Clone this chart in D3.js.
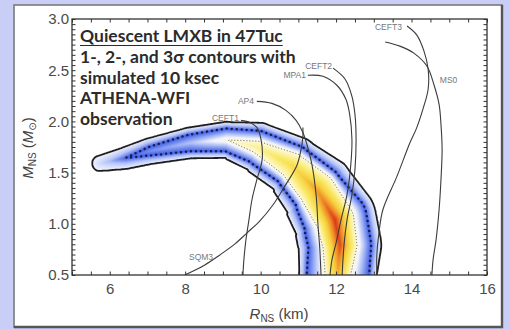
<!DOCTYPE html>
<html>
<head>
<meta charset="utf-8">
<script src="https://cdn.jsdelivr.net/npm/d3@7"></script>
<style>
  html, body { margin: 0; padding: 0; background: #c8cef6; }
  svg { display: block; }
</style>
</head>
<body>
<svg id="chart" width="510" height="329"></svg>
<script>
// ridge of the simulated posterior (R in km, M in Msun)
const ridgeR = [5.74, 6.40, 7.07, 8.13, 9.11, 9.90, 10.83, 11.49, 11.97, 12.10, 12.05, 12.08];
const ridgeM = [1.59, 1.64, 1.71, 1.79, 1.82, 1.75, 1.57, 1.33, 1.04, 0.79, 0.52, 0.25];
// peak level along the ridge (1 = 3 sigma, 2 = 2 sigma, 3 = 1 sigma)
const ridgePeak = [1.3, 2.0, 2.25, 2.5, 3.0, 3.35, 3.8, 4.4, 5.0, 4.9, 4.3, 3.9];
// half widths of the 3, 2 and 1 sigma contours across the ridge (km)
const width3 = [0.21, 0.29, 0.345, 0.41, 0.48, 0.66, 0.80, 1.00, 1.10, 1.10, 1.03, 1.03];
const width2 = [0, 0, 0.12, 0.225, 0.305, 0.44, 0.56, 0.69, 0.85, 0.83, 0.83, 0.82];
const width1 = [0, 0, 0, 0, 0, 0.16, 0.34, 0.48, 0.50, 0.45, 0.34, 0.27];

// equation of state M-R curves
const sqm3R = [7.99, 8.52, 8.92, 9.32, 9.64, 9.98, 10.33, 10.65, 10.96, 11.07, 11.12, 11.12];
const sqm3M = [0.50, 0.598, 0.696, 0.804, 0.912, 1.029, 1.186, 1.373, 1.569, 1.725, 1.853, 1.941];
const ap4R = [9.90, 10.30, 10.67, 10.94, 11.12, 11.25, 11.36, 11.47, 11.52, 11.57, 11.60];
const ap4M = [2.196, 2.176, 2.108, 2.010, 1.892, 1.745, 1.578, 1.284, 0.990, 0.745, 0.50];
const ceft1R = [9.48, 9.72, 9.90, 10.01, 10.04, 9.90, 9.77, 9.69, 9.61, 9.56, 9.53];
const ceft1M = [2.010, 1.990, 1.941, 1.824, 1.627, 1.431, 1.235, 1.039, 0.843, 0.667, 0.50];
const mpa1R = [11.25, 11.65, 12.02, 12.26, 12.36, 12.42, 12.39, 12.29, 12.13, 12.00, 11.89, 11.84];
const mpa1M = [2.451, 2.441, 2.353, 2.216, 2.069, 1.824, 1.578, 1.284, 1.039, 0.814, 0.647, 0.50];
const ceft2R = [11.92, 12.24, 12.42, 12.50, 12.53, 12.50, 12.42, 12.29, 12.21, 12.16];
const ceft2M = [2.52, 2.412, 2.245, 2.069, 1.824, 1.529, 1.284, 1.039, 0.794, 0.50];
const ceft3R = [13.88, 14.14, 14.33, 14.44, 14.44, 14.30, 14.12, 13.96, 13.61, 13.24, 13.13, 13.08, 13.08];
const ceft3M = [2.931, 2.843, 2.686, 2.51, 2.314, 2.118, 1.922, 1.794, 1.461, 1.137, 0.892, 0.696, 0.50];
const ms0R = [13.30, 13.69, 14.06, 14.41, 14.59, 14.73, 14.78, 14.81, 14.78, 14.73, 14.65, 14.57, 14.54];
const ms0M = [2.775, 2.735, 2.667, 2.539, 2.363, 2.167, 1.971, 1.725, 1.431, 1.137, 0.843, 0.647, 0.50];

const eosNames = ['SQM3', 'AP4', 'CEFT1', 'MPA1', 'CEFT2', 'CEFT3', 'MS0'];
const eosLabelR = [8.42, 9.85, 9.45, 11.23, 11.92, 13.77, 14.75];
const eosLabelM = [0.676, 2.196, 2.03, 2.45, 2.54, 2.92, 2.40];
const eosLabelAnchor = ['middle', 'end', 'end', 'end', 'end', 'end', 'start'];

const noteLines = ['Quiescent LMXB in 47Tuc', '1-, 2-, and 3\u03c3 contours with',
  'simulated 10 ksec', 'ATHENA-WFI', 'observation'];

const xTicks = d3.range(5, 16.001, 0.5);
const yTicks = d3.range(0, 51).map(i => +(0.5 + i * 0.05).toFixed(2));

const svg = d3.select('#chart');
const x = d3.scaleLinear().domain([5, 16]).range([72, 487]);
const y = d3.scaleLinear().domain([0.5, 3]).range([275, 19]);

// white card with a darker lower-right edge
svg.append('rect')
  .attr('x', 14).attr('y', 5).attr('width', 488).attr('height', 322)
  .attr('fill', '#fff').attr('stroke', '#7a7a7a').attr('stroke-width', 1.6);
svg.append('path')
  .attr('d', 'M502,5V327H14')
  .attr('fill', 'none').attr('stroke', '#555').attr('stroke-width', 2.4);

svg.append('defs').append('clipPath').attr('id', 'plotclip')
  .append('rect').attr('x', 72).attr('y', 19).attr('width', 415).attr('height', 256);

// ---- density grid built from the ridge ----
const gx0 = 60, gy0 = 10, gw = 440, gh = 310;
const pxPerKm = x(6) - x(5);
const pts = ridgeR.map((r, i) => [x(r), y(ridgeM[i])]);

function profile(d, A, h1, h2, h3) {
  let knots;
  if (A > 3) knots = [[0, A], [h1, 3], [h2, 2], [h3, 1], [h3 + 6, 0]];
  else if (A > 2) knots = [[0, A], [h2, 2], [h3, 1], [h3 + 6, 0]];
  else knots = [[0, A], [h3, 1], [h3 + 6, 0]];
  for (let k = 1; k < knots.length; k++) {
    if (d <= knots[k][0]) {
      const [d0, v0] = knots[k - 1], [d1, v1] = knots[k];
      return d1 - d0 < 1e-6 ? v1 : v0 + (v1 - v0) * (d - d0) / (d1 - d0);
    }
  }
  return 0;
}

const values = new Float64Array(gw * gh);
for (let j = 0; j < gh; j++) {
  const py = gy0 + j + 0.5;
  for (let i = 0; i < gw; i++) {
    const px = gx0 + i + 0.5;
    let best = Infinity, bk = 0, bt = 0;
    for (let k = 0; k < pts.length - 1; k++) {
      const [ax, ay] = pts[k], [bx, by] = pts[k + 1];
      const dx = bx - ax, dy = by - ay;
      let t = ((px - ax) * dx + (py - ay) * dy) / (dx * dx + dy * dy);
      t = Math.max(0, Math.min(1, t));
      const ex = ax + t * dx - px, ey = ay + t * dy - py;
      const dd = ex * ex + ey * ey;
      if (dd < best) { best = dd; bk = k; bt = t; }
    }
    const lerp = arr => arr[bk] + (arr[bk + 1] - arr[bk]) * bt;
    values[j * gw + i] = profile(Math.sqrt(best), lerp(ridgePeak),
      lerp(width1) * pxPerKm, lerp(width2) * pxPerKm, lerp(width3) * pxPerKm);
  }
}

const toPlot = d3.geoPath(d3.geoTransform({
  point(px, py) { this.stream.point(gx0 + px, gy0 + py); }
}));

const color = d3.scaleLinear()
  .domain([1, 1.5, 2, 2.4, 2.75, 3, 3.5, 4, 4.5, 5])
  .range(['#f0f3fe', '#b4c2f6', '#4261e9', '#a3b5f4', '#f1f3fd', '#fdf9dc',
          '#faea6c', '#f6cf3e', '#ef8c28', '#d9301c'])
  .clamp(true);

const fillLevels = d3.range(1, 5.001, 0.05);
const contours = d3.contours().size([gw, gh]);

const plotG = svg.append('g').attr('clip-path', 'url(#plotclip)');

plotG.append('g').selectAll('path')
  .data(contours.thresholds(fillLevels)(values))
  .join('path')
  .attr('d', toPlot)
  .attr('fill', d => color(d.value));

const lineStyles = [
  { level: 3, stroke: '#555', width: 1, dash: '1 2', cap: 'butt' },
  { level: 2, stroke: '#1b1b4a', width: 2.5, dash: '0.01 5', cap: 'round' },
  { level: 1, stroke: '#1e1e1e', width: 1.8, dash: null, cap: 'butt' }
];
lineStyles.forEach(s => {
  plotG.append('path')
    .datum(contours.thresholds([s.level])(values)[0])
    .attr('d', toPlot)
    .attr('fill', 'none')
    .attr('stroke', s.stroke)
    .attr('stroke-width', s.width)
    .attr('stroke-dasharray', s.dash)
    .attr('stroke-linecap', s.cap);
});

// ---- EOS curves ----
const eosR = [sqm3R, ap4R, ceft1R, mpa1R, ceft2R, ceft3R, ms0R];
const eosM = [sqm3M, ap4M, ceft1M, mpa1M, ceft2M, ceft3M, ms0M];
const eosLine = d3.line()
  .x(d => x(d[0])).y(d => y(d[1]))
  .curve(d3.curveCatmullRom.alpha(0.5));

plotG.append('g').selectAll('path')
  .data(eosR.map((rs, i) => rs.map((r, k) => [r, eosM[i][k]])))
  .join('path')
  .attr('d', eosLine)
  .attr('fill', 'none')
  .attr('stroke', '#3c3c3c')
  .attr('stroke-width', 1.1);

svg.append('g').selectAll('text')
  .data(eosNames)
  .join('text')
  .attr('x', (d, i) => x(eosLabelR[i]) + (eosLabelAnchor[i] === 'end' ? -1 : 0))
  .attr('y', (d, i) => y(eosLabelM[i]))
  .attr('dy', '0.35em')
  .attr('text-anchor', (d, i) => eosLabelAnchor[i])
  .attr('font-family', 'Liberation Sans, Arial, sans-serif')
  .attr('font-size', 8.5)
  .attr('fill', '#777')
  .text(d => d);

// ---- axes ----
function styleAxis(g) {
  g.select('.domain').remove();
  g.selectAll('line').attr('stroke', '#333').attr('stroke-width', 1);
  g.selectAll('text')
    .attr('font-family', 'Liberation Sans, Arial, sans-serif')
    .attr('font-size', 15)
    .attr('fill', '#4a4a4a');
}

svg.append('g').attr('transform', 'translate(0,275)')
  .call(d3.axisBottom(x).tickValues(xTicks).tickSize(-3.5).tickPadding(8)
    .tickFormat(d => (d % 2 === 0 && d > 5) ? d : ''))
  .call(styleAxis);
svg.append('g').attr('transform', 'translate(0,19)')
  .call(d3.axisTop(x).tickValues(xTicks).tickSize(-3.5).tickFormat(''))
  .call(styleAxis);
svg.append('g').attr('transform', 'translate(72,0)')
  .call(d3.axisLeft(y).tickValues(yTicks).tickSize(-3.5).tickPadding(3)
    .tickFormat(d => Math.abs(d * 2 - Math.round(d * 2)) < 1e-6 ? d3.format('.1f')(d) : ''))
  .call(styleAxis);
svg.append('g').attr('transform', 'translate(487,0)')
  .call(d3.axisRight(y).tickValues(yTicks).tickSize(-3.5).tickFormat(''))
  .call(styleAxis);

svg.append('rect')
  .attr('x', 72).attr('y', 19).attr('width', 415).attr('height', 256)
  .attr('fill', 'none').attr('stroke', '#333').attr('stroke-width', 1.3);

// axis titles
const yTitle = svg.append('text')
  .attr('transform', 'translate(33,148) rotate(-90)')
  .attr('text-anchor', 'middle')
  .attr('font-family', 'Liberation Sans, Arial, sans-serif')
  .attr('font-size', 15).attr('fill', '#444');
yTitle.append('tspan').attr('font-style', 'italic').text('M');
yTitle.append('tspan').attr('font-size', 10).attr('dy', 3).text('NS');
yTitle.append('tspan').attr('dy', -3).text(' (');
yTitle.append('tspan').attr('font-style', 'italic').text('M');
yTitle.append('tspan').attr('font-size', 10).attr('dy', 3).attr('font-family', 'DejaVu Sans').text('\u2299');
yTitle.append('tspan').attr('dy', -3).text(')');

const xTitle = svg.append('text')
  .attr('x', 279).attr('y', 319)
  .attr('text-anchor', 'middle')
  .attr('font-family', 'Liberation Sans, Arial, sans-serif')
  .attr('font-size', 15).attr('fill', '#444');
xTitle.append('tspan').attr('font-style', 'italic').text('R');
xTitle.append('tspan').attr('font-size', 10).attr('dy', 3).text('NS');
xTitle.append('tspan').attr('dy', -3).text(' (km)');

// note block
const note = svg.append('g')
  .attr('font-family', 'Lato, sans-serif')
  .attr('font-weight', 700)
  .attr('font-size', 17.5)
  .attr('fill', '#2b2b2b');
const noteY = [42, 63, 83.5, 104, 125];
note.selectAll('text')
  .data(noteLines)
  .join('text')
  .attr('x', 80)
  .attr('y', (d, i) => noteY[i])
  .text(d => d);
const firstLen = note.select('text').node().getComputedTextLength();
note.append('line')
  .attr('x1', 80).attr('x2', 80 + firstLen)
  .attr('y1', 45.5).attr('y2', 45.5)
  .attr('stroke', '#2b2b2b').attr('stroke-width', 1.2);
</script>
</body>
</html>
